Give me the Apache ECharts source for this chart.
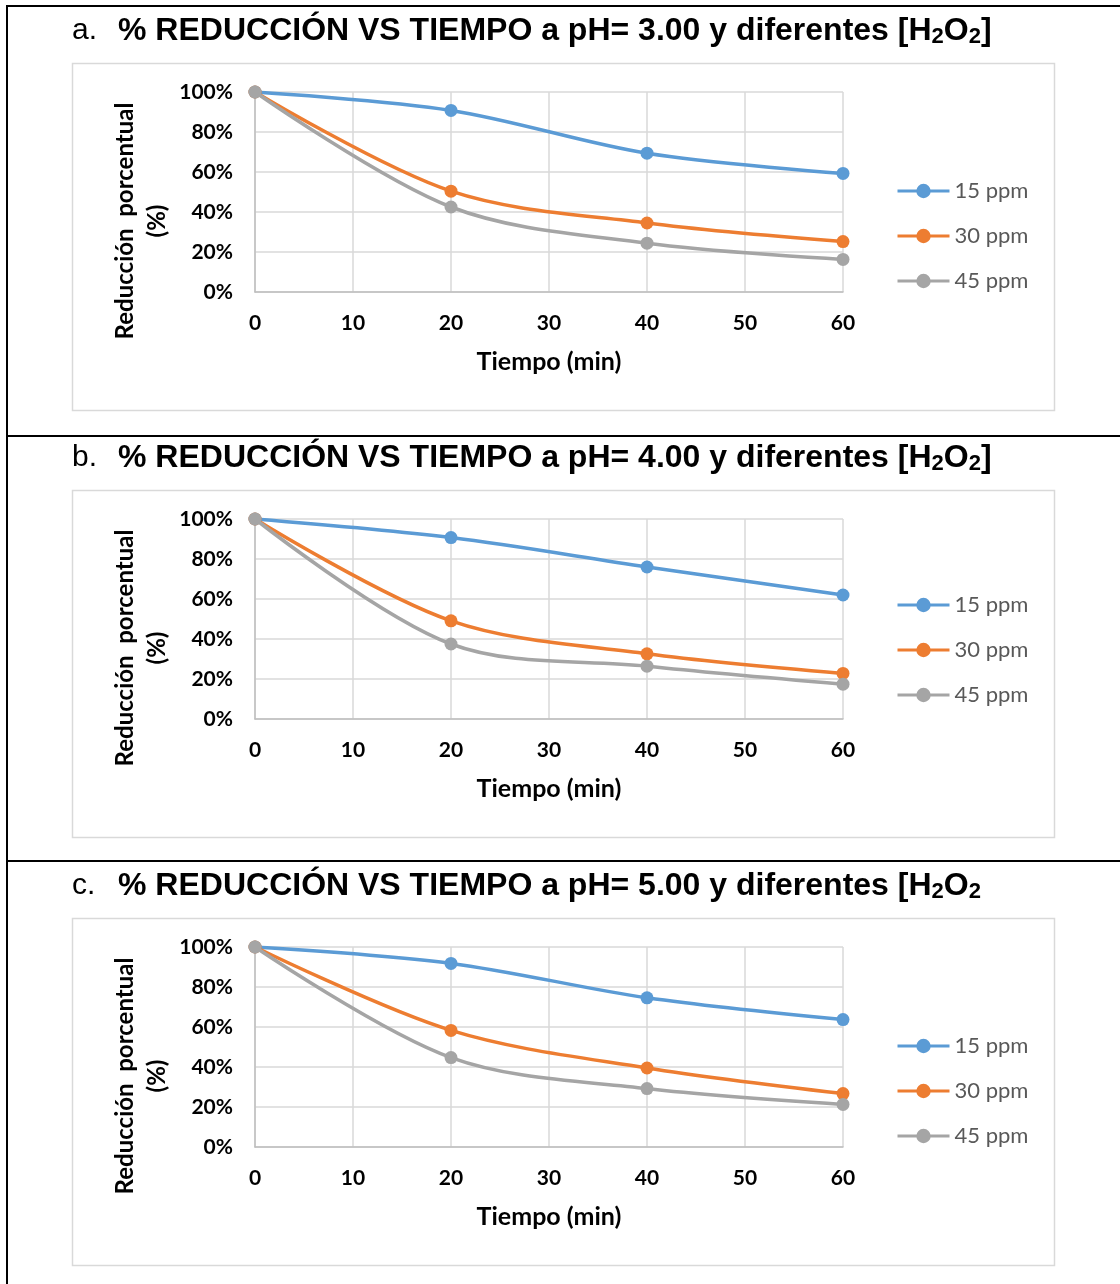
<!DOCTYPE html>
<html>
<head>
<meta charset="utf-8">
<script src="https://cdn.jsdelivr.net/npm/echarts@6/dist/echarts.min.js"></script>
<style>
html,body{margin:0;padding:0;background:#fff;}
#c{width:1120px;height:1284px;}
</style>
</head>
<body>
<div id="c"></div>
<script>
// ---- data ----
var times = [0, 20, 40, 60];
var seriesNames = ['15 ppm', '30 ppm', '45 ppm'];
var panelLetters = ['a.', 'b.', 'c.'];
var panelTitles = [
  '{b|% REDUCCIÓN VS TIEMPO a pH= 3.00 y diferentes [H}{s|2}{b|O}{s|2}{b|]}',
  '{b|% REDUCCIÓN VS TIEMPO a pH= 4.00 y diferentes [H}{s|2}{b|O}{s|2}{b|]}',
  '{b|% REDUCCIÓN VS TIEMPO a pH= 5.00 y diferentes [H}{s|2}{b|O}{s|2}'
];
var xTicks = [0, 10, 20, 30, 40, 50, 60];
var yTicks = [0, 0.2, 0.4, 0.6, 0.8, 1.0];
var xAxisTitle = 'Tiempo (min)';
var yAxisTitle = 'Reducción  porcentual\n(%)';

var pH3_15 = [1.00, 0.908, 0.694, 0.593];
var pH3_30 = [1.00, 0.504, 0.345, 0.252];
var pH3_45 = [1.00, 0.425, 0.244, 0.163];

var pH4_15 = [1.00, 0.907, 0.760, 0.620];
var pH4_30 = [1.00, 0.491, 0.326, 0.228];
var pH4_45 = [1.00, 0.375, 0.264, 0.174];

var pH5_15 = [1.00, 0.918, 0.746, 0.637];
var pH5_30 = [1.00, 0.583, 0.395, 0.267];
var pH5_45 = [1.00, 0.447, 0.292, 0.213];

var panels = [
  [pH3_15, pH3_30, pH3_45],
  [pH4_15, pH4_30, pH4_45],
  [pH5_15, pH5_30, pH5_45]
];
var colors = ['#5B9BD5', '#ED7D31', '#A5A5A5'];

// ---- layout ----
var panelOffsets = [0, 427, 855];
var legendTops = [180, 594, 1035];
var labelFont = 'Lato, "Open Sans", sans-serif';
var titleFont = '"Liberation Sans", Arial, sans-serif';

var chart = echarts.init(document.getElementById('c'));
var grids = [], xAxes = [], yAxes = [], series = [], legends = [], graphics = [];

// outer table borders
graphics.push({type:'line', shape:{x1:7, y1:6, x2:7, y2:1284}, style:{stroke:'#000', lineWidth:2}});
graphics.push({type:'line', shape:{x1:6, y1:6, x2:1120, y2:6}, style:{stroke:'#000', lineWidth:2}});
graphics.push({type:'line', shape:{x1:6, y1:436, x2:1120, y2:436}, style:{stroke:'#000', lineWidth:2}});
graphics.push({type:'line', shape:{x1:6, y1:861, x2:1120, y2:861}, style:{stroke:'#000', lineWidth:2}});

panels.forEach(function (pdata, p) {
  var off = panelOffsets[p];
  // chart box
  graphics.push({type:'rect', shape:{x:72.5, y:63.5 + off, width:982, height:347},
    style:{fill:'none', stroke:'#d9d9d9', lineWidth:1.5}, z:-1});
  // titles
  graphics.push({type:'text', x:72, y:31 + off, style:{text:panelLetters[p],
    font:'30px ' + titleFont, fill:'#000', textVerticalAlign:'middle'}});
  graphics.push({type:'text', x:118, y:31 + off, style:{text:panelTitles[p],
    fill:'#000', textVerticalAlign:'middle',
    rich:{
      b:{fontFamily:titleFont, fontWeight:'bold', fontSize:32, color:'#000', lineHeight:36},
      s:{fontFamily:titleFont, fontWeight:'bold', fontSize:22, color:'#000', lineHeight:22, padding:[12,0,0,0]}
    }}});
  // y axis title
  graphics.push({type:'text', x:141, y:221 + off, rotation:Math.PI/2, style:{text:yAxisTitle,
    font:'bold 24px ' + labelFont, fill:'#000', textAlign:'center', textVerticalAlign:'middle', lineHeight:32}});

  grids.push({left:255, top:92 + off, width:588, height:200, containLabel:false});
  xAxes.push({
    type:'value', gridIndex:p, min:xTicks[0], max:xTicks[xTicks.length-1], interval:10,
    name:xAxisTitle, nameLocation:'middle', nameGap:57,
    nameTextStyle:{fontFamily:labelFont, fontWeight:'bold', fontSize:25, color:'#000'},
    axisLine:{show:true, lineStyle:{color:'#bfbfbf', width:1.5}},
    axisTick:{show:false},
    axisLabel:{margin:21, fontFamily:labelFont, fontWeight:'bold', fontSize:21, color:'#000'},
    splitLine:{show:true, lineStyle:{color:'#d9d9d9', width:1.5}}
  });
  yAxes.push({
    type:'value', gridIndex:p, min:yTicks[0], max:yTicks[yTicks.length-1], interval:0.2,
    axisLine:{show:true, lineStyle:{color:'#bfbfbf', width:1.5}},
    axisTick:{show:false},
    axisLabel:{margin:22, fontFamily:labelFont, fontWeight:'bold', fontSize:21, color:'#000',
      formatter:function (v) { return Math.round(v * 100) + '%'; }},
    splitLine:{show:true, lineStyle:{color:'#d9d9d9', width:1.5}}
  });
  legends.push({
    orient:'vertical', left:896, top:legendTops[p], padding:0,
    itemWidth:52, itemHeight:18, itemGap:23,
    data:seriesNames, selectedMode:false,
    lineStyle:{width:3},
    textStyle:{fontFamily:labelFont, fontSize:22, lineHeight:22, color:'#595959', padding:[0,0,0,0]}
  });
  pdata.forEach(function (vals, s) {
    series.push({
      type:'line', name:seriesNames[s], xAxisIndex:p, yAxisIndex:p,
      data:times.map(function (t, i) { return [t, vals[i]]; }),
      smooth:0.33, symbol:'circle', symbolSize:13, showSymbol:true,
      itemStyle:{color:colors[s]}, lineStyle:{color:colors[s], width:3.5},
      z:2 + s, animation:false
    });
  });
});

chart.setOption({
  animation:false,
  backgroundColor:'#fff',
  grid:grids, xAxis:xAxes, yAxis:yAxes, legend:legends, series:series,
  graphic:graphics
});
</script>
</body>
</html>
